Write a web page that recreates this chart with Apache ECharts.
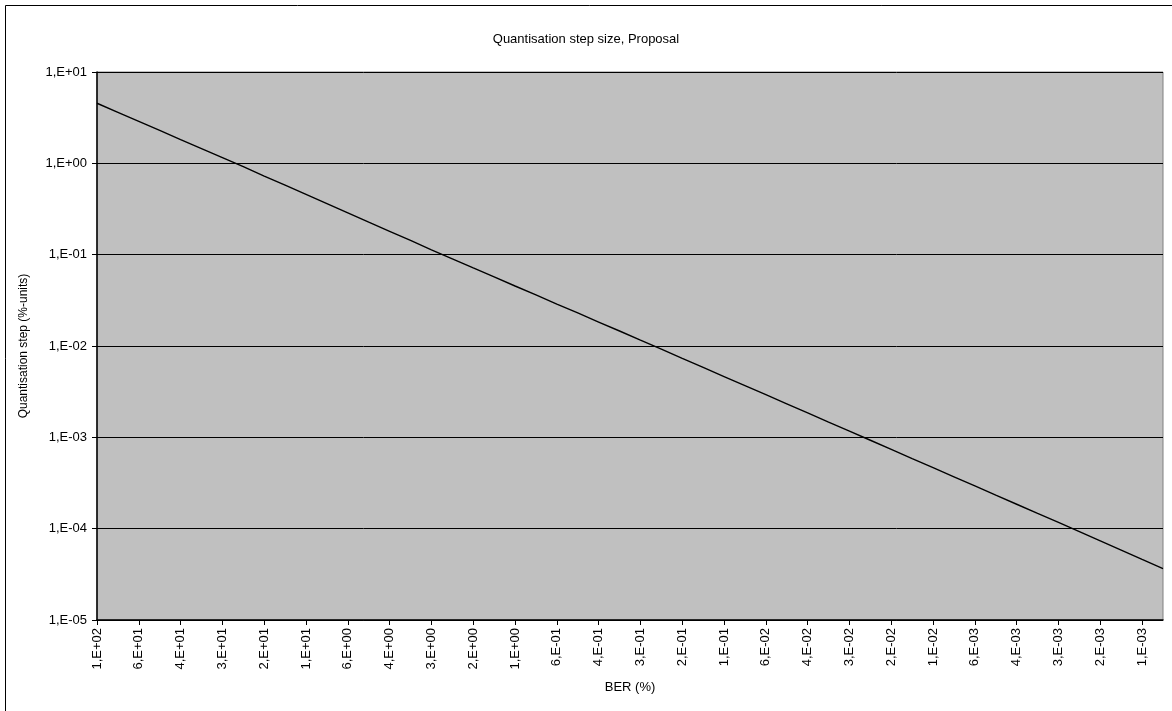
<!DOCTYPE html>
<html>
<head>
<meta charset="utf-8">
<script src="https://cdn.jsdelivr.net/npm/echarts@6/dist/echarts.min.js"></script>
<style>
html,body{margin:0;padding:0;background:#fff;}
#chart{width:1172px;height:711px;}
</style>
</head>
<body>
<div id="chart"></div>
<script>
// BER (%) categories, 10 per decade from 1E+02 down to 8E-04
var berCategories = [
  '1,E+02',
  '8,E+01','6,E+01','5,E+01','4,E+01','3,E+01','3,E+01','2,E+01','2,E+01','1,E+01','1,E+01',
  '8,E+00','6,E+00','5,E+00','4,E+00','3,E+00','3,E+00','2,E+00','2,E+00','1,E+00','1,E+00',
  '8,E-01','6,E-01','5,E-01','4,E-01','3,E-01','3,E-01','2,E-01','2,E-01','1,E-01','1,E-01',
  '8,E-02','6,E-02','5,E-02','4,E-02','3,E-02','3,E-02','2,E-02','2,E-02','1,E-02','1,E-02',
  '8,E-03','6,E-03','5,E-03','4,E-03','3,E-03','3,E-03','2,E-03','2,E-03','1,E-03','1,E-03',
  '8,E-04'
];
// Quantisation step (%-units)
var stepValues = [
  4.55, 3.62, 2.88, 2.29, 1.82, 1.45, 1.154, 0.918, 0.726, 0.576, 0.457,
  0.362, 0.287, 0.227, 0.180, 0.143, 0.113, 0.0899, 0.0716, 0.0571, 0.0454,
  0.0362, 0.0288, 0.0230, 0.0183, 0.0146, 0.01157, 0.00923, 0.00732, 0.00582, 0.00463,
  0.00368, 0.00293, 0.00233, 0.00185, 0.00147, 0.00117, 0.000929, 0.000738, 0.000586, 0.000466,
  0.000370, 0.000294, 0.000233, 0.000185, 0.000147, 0.000117, 0.0000927, 0.0000734, 0.0000582, 0.0000461,
  0.0000366
];
// Y tick labels, from 1E-05 up to 1E+01
var yTickLabels = ['1,E-05','1,E-04','1,E-03','1,E-02','1,E-01','1,E+00','1,E+01'];

var FONT = '"Liberation Sans", Arial, sans-serif';
var chart = echarts.init(document.getElementById('chart'));
chart.setOption({
  animation: false,
  backgroundColor: '#ffffff',
  title: {
    text: 'Quantisation step size, Proposal',
    left: 'center',
    top: 28,
    textStyle: { fontFamily: FONT, fontSize: 13, fontWeight: 'normal', color: '#000' }
  },
  graphic: [{
    type: 'rect',
    shape: { x: 5.5, y: 5.5, width: 1200, height: 800 },
    style: { fill: 'none', stroke: '#000', lineWidth: 1 },
    silent: true
  }],
  grid: {
    left: 97, top: 72, right: 9, bottom: 91,
    show: true, backgroundColor: '#C0C0C0', borderColor: '#808080', borderWidth: 1
  },
  xAxis: {
    type: 'category',
    data: berCategories,
    boundaryGap: false,
    name: 'BER (%)',
    nameLocation: 'middle',
    nameGap: 61,
    nameTextStyle: { fontFamily: FONT, fontSize: 13, color: '#000' },
    axisLine: { lineStyle: { color: '#000', width: 1.5 } },
    axisTick: { show: true, interval: 1, length: 5, lineStyle: { color: '#000' } },
    axisLabel: {
      interval: 1, rotate: 90, margin: 8,
      fontFamily: FONT, fontSize: 13, color: '#000'
    },
    splitLine: { show: false }
  },
  yAxis: {
    type: 'log',
    logBase: 10,
    min: 1e-5,
    max: 10,
    name: 'Quantisation step (%-units)',
    nameLocation: 'middle',
    nameGap: 67,
    nameRotate: 90,
    nameTextStyle: { fontFamily: FONT, fontSize: 12, color: '#000' },
    axisLine: { show: true, lineStyle: { color: '#000', width: 1.5 } },
    axisTick: { show: true, length: 5, lineStyle: { color: '#000' } },
    axisLabel: {
      margin: 10, fontFamily: FONT, fontSize: 13, color: '#000',
      formatter: function (v) {
        var idx = Math.round(Math.log(v) / Math.LN10) + 5;
        return yTickLabels[idx] || '';
      }
    },
    splitLine: { show: true, lineStyle: { color: '#000', width: 1 } }
  },
  series: [{
    type: 'line',
    data: stepValues,
    showSymbol: false,
    symbol: 'none',
    lineStyle: { color: '#000', width: 1.4 },
    smooth: false
  }]
});
</script>
</body>
</html>
